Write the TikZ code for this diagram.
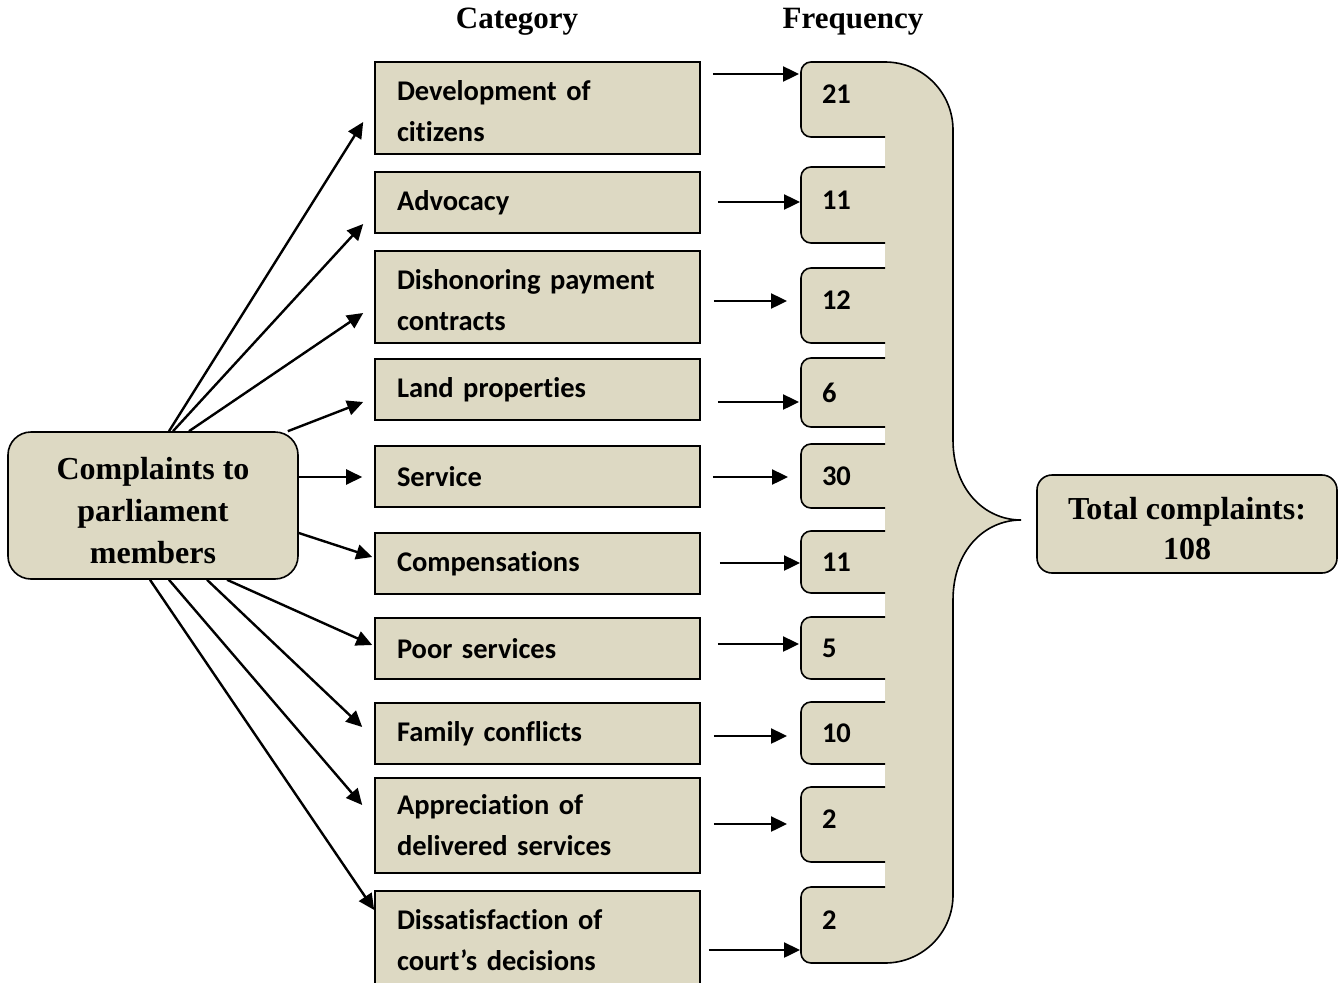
\documentclass[tikz,border=0pt]{standalone}
\usepackage{fontspec}
\setmainfont{Liberation Serif}
\newfontfamily\calfont{Carlito}[Ligatures=NoCommon]
\usetikzlibrary{arrows.meta,backgrounds}
\definecolor{boxfill}{HTML}{DDD9C3}

\tikzset{
  catbox/.style={draw, line width=1.6pt, fill=boxfill, minimum width=325pt, text width=281pt,
    inner xsep=22pt, inner ysep=0pt, align=left, font=\calfont\bfseries\fontsize{28.5}{41}\selectfont},
  freqtab/.style={minimum width=84pt, text width=42pt, inner xsep=21pt, inner ysep=0pt, outer sep=0pt,
    align=left, font=\calfont\bfseries\fontsize{28.5}{41}\selectfont},
  raised/.style={text depth=10pt},
  serifbox/.style={draw, line width=1.6pt, fill=boxfill, align=center, inner sep=0pt,
    font=\bfseries\fontsize{32}{42}\selectfont},
  headtext/.style={inner sep=0pt, font=\bfseries\fontsize{31}{36}\selectfont},
  tabline/.style={draw, line width=1.6pt, fill=boxfill, rounded corners=10pt},
  arr/.style={line width=2.4pt, -{Triangle[length=16pt,width=15pt]}}
}

\begin{document}
\begin{tikzpicture}[x=1pt,y=1pt,yscale=-1,xscale=1]
\useasboundingbox (0,0) rectangle (1340,982);

% Text Node
\node[headtext] (hcat) at (517,22) {Category};
% Text Node
\node[headtext] (hfreq) at (853,22) {Frequency};

% Text Node
\node[serifbox, minimum width=290pt, minimum height=147pt, rounded corners=23pt] (src) at (153,505.5) {\rule{0pt}{32pt}Complaints to\\parliament\\members};

% Text Node
\node[catbox, minimum height=92pt] (c1) at (537.5,108) {\rule{0pt}{26pt}Development of\\citizens};
% Text Node
\node[catbox, minimum height=61pt] (c2) at (537.5,202.5) {Advocacy};
% Text Node
\node[catbox, minimum height=92pt] (c3) at (537.5,297) {\rule{0pt}{26pt}Dishonoring payment\\contracts};
% Text Node
\node[catbox, minimum height=61pt] (c4) at (537.5,389.5) {Land properties};
% Text Node
\node[catbox, minimum height=61pt] (c5) at (537.5,476.5) {Service};
% Text Node
\node[catbox, minimum height=61pt] (c6) at (537.5,563.5) {Compensations};
% Text Node
\node[catbox, minimum height=61pt] (c7) at (537.5,648.5) {Poor services};
% Text Node
\node[catbox, minimum height=61pt] (c8) at (537.5,733.5) {Family conflicts};
% Text Node
\node[catbox, minimum height=95pt] (c9) at (537.5,825.5) {Appreciation of\\delivered services};
% Text Node
\node[catbox, minimum height=99pt] (c10) at (537.5,940.5) {Dissatisfaction of\\court’s decisions};

% Text Node
\node[freqtab, raised, minimum height=75pt] (f1) at (843,99.5) {21};
% Text Node
\node[freqtab, raised, minimum height=76pt] (f2) at (843,205) {11};
% Text Node
\node[freqtab, raised, minimum height=75pt] (f3) at (843,305.5) {12};
% Text Node
\node[freqtab, minimum height=69pt] (f4) at (843,392.5) {6};
% Text Node
\node[freqtab, minimum height=64pt] (f5) at (843,476) {30};
% Text Node
\node[freqtab, minimum height=62pt] (f6) at (843,562) {11};
% Text Node
\node[freqtab, minimum height=62pt] (f7) at (843,648) {5};
% Text Node
\node[freqtab, minimum height=62pt] (f8) at (843,733) {10};
% Text Node
\node[freqtab, raised, minimum height=75pt] (f9) at (843,824.5) {2};
% Text Node
\node[freqtab, raised, minimum height=76pt] (f10) at (843,925) {2};

% Text Node
\node[serifbox, minimum width=300pt, minimum height=98pt, rounded corners=15pt, font=\bfseries\fontsize{32}{40}\selectfont] (total) at (1187,524) {\rule{0pt}{32pt}Total complaints:\\108};

% Brace and tabs
\begin{scope}[on background layer]
\fill[boxfill] (885,62) .. controls (922.6,62) and (953,92.4) .. (953,130) -- (953,440) .. controls (953,490) and (985,520) .. (1021,520) .. controls (985,520) and (953,550) .. (953,600) -- (953,895) .. controls (953,932.6) and (922.6,963) .. (885,963) -- cycle;
\foreach \i in {1,...,10}
  \draw[tabline] (f\i.north east) -- (f\i.north west) -- (f\i.south west) -- (f\i.south east);
\draw[line width=1.6pt] (885,62) .. controls (922.6,62) and (953,92.4) .. (953,130) -- (953,440) .. controls (953,490) and (985,520) .. (1021,520) .. controls (985,520) and (953,550) .. (953,600) -- (953,895) .. controls (953,932.6) and (922.6,963) .. (885,963);
\end{scope}

% Connection
\draw[arr] ([xshift=16]src.north) -- ([xshift=-11]c1.west |- 0,122);
% Connection
\draw[arr] ([xshift=20]src.north) -- ([xshift=-11]c2.west |- 0,224);
% Connection
\draw[arr] ([xshift=36]src.north) -- ([xshift=-11]c3.west |- 0,313);
% Connection
\draw[arr] ([xshift=-11]src.north east) -- ([xshift=-11]c4.west |- 0,402);
% Connection
\draw[arr] (src.east |- 0,477) -- ([xshift=-12]c5.west |- 0,477);
% Connection
\draw[arr] (src.east |- 0,533) -- ([xshift=-2]c6.west |- 0,557);
% Connection
\draw[arr] ([xshift=74]src.south) -- ([xshift=-2]c7.west |- 0,645);
% Connection
\draw[arr] ([xshift=54]src.south) -- ([xshift=-12]c8.west |- 0,727);
% Connection
\draw[arr] ([xshift=16]src.south) -- ([xshift=-12]c9.west |- 0,805);
% Connection
\draw[arr] ([xshift=-3]src.south) -- (c10.west |- 0,910);

% Connection
\foreach \i/\xs/\xe/\yy in {1/12/2/74, 2/17/1/202, 3/13/14/301, 4/17/2/402, 5/12/13/477,
  6/19/1/563, 7/17/2/644, 8/13/14/736, 9/13/14/824, 10/8/1/950}
  \draw[arr] ([xshift=\xs]c\i.east |- 0,\yy) -- ([xshift=-\xe]f\i.west |- 0,\yy);

\end{tikzpicture}
\end{document}
